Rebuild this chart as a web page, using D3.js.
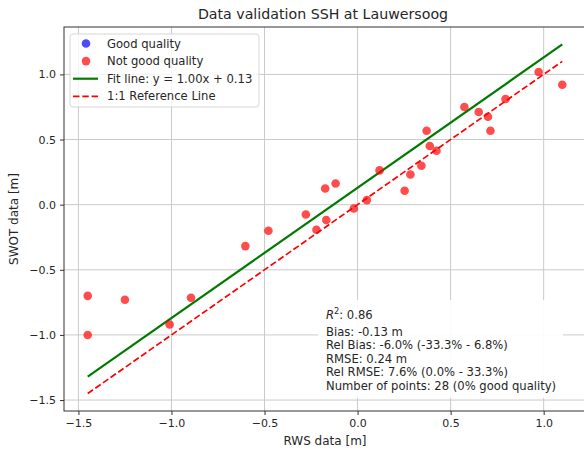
<!DOCTYPE html>
<html>
<head>
<meta charset="utf-8">
<script src="https://cdn.jsdelivr.net/npm/d3@7"></script>
<style>
  body { margin: 0; background: #fff; }
  text { font-family: "DejaVu Sans", sans-serif; fill: #262626; }
</style>
</head>
<body>
<div id="chart"></div>
<script>
// RWS (x) vs SWOT (y), all points are "not good quality"
const rwsValues = [-1.45, -1.45, -1.25, -1.01, -0.895, -0.603, -0.479, -0.278, -0.221, -0.168,
                   -0.174, -0.118, -0.020, 0.050, 0.118, 0.253, 0.284, 0.343, 0.371, 0.388,
                   0.424, 0.574, 0.651, 0.701, 0.714, 0.795, 0.973, 1.10];
const swotValues = [-0.70, -1.00, -0.73, -0.92, -0.715, -0.318, -0.200, -0.075, -0.193, -0.118,
                    0.124, 0.163, -0.029, 0.035, 0.263, 0.107, 0.232, 0.299, 0.568, 0.450,
                    0.414, 0.750, 0.711, 0.675, 0.568, 0.811, 1.018, 0.921];
const goodQuality = [];   // no good-quality points

const fitSlope = 1.00;
const fitIntercept = 0.13;

const xTicks = [-1.5, -1.0, -0.5, 0.0, 0.5, 1.0];
const yTicks = [-1.5, -1.0, -0.5, 0.0, 0.5, 1.0];

const legendLabels = ["Good quality", "Not good quality", "Fit line: y = 1.00x + 0.13", "1:1 Reference Line"];
const statLines = ["Bias: -0.13 m", "Rel Bias: -6.0% (-33.3% - 6.8%)", "RMSE: 0.24 m",
                   "Rel RMSE: 7.6% (0.0% - 33.3%)", "Number of points: 28 (0% good quality)"];
const r2Value = "0.86";

const W = 584, H = 452;
const margin = {top: 27, right: -2, bottom: 41, left: 64};

const svg = d3.select("#chart").append("svg")
    .attr("width", W).attr("height", H);

const x = d3.scaleLinear().domain([-1.5775, 1.2275]).range([margin.left, W - margin.right]);
const y = d3.scaleLinear().domain([-1.584, 1.364]).range([H - margin.bottom, margin.top]);

const minus = s => s.replace("-", "\u2212");

// grid
svg.append("g").selectAll("line").data(xTicks).join("line")
    .attr("x1", d => x(d)).attr("x2", d => x(d))
    .attr("y1", margin.top).attr("y2", H - margin.bottom)
    .attr("stroke", "#cacaca").attr("stroke-width", 1);
svg.append("g").selectAll("line").data(yTicks).join("line")
    .attr("y1", d => y(d)).attr("y2", d => y(d))
    .attr("x1", margin.left).attr("x2", W - margin.right)
    .attr("stroke", "#cacaca").attr("stroke-width", 1);

// axes
const xAxis = d3.axisBottom(x).tickValues(xTicks).tickSize(4).tickPadding(4)
    .tickFormat(d => minus(d3.format(".1f")(d)));
const yAxis = d3.axisLeft(y).tickValues(yTicks).tickSize(4).tickPadding(4)
    .tickFormat(d => minus(d3.format(".1f")(d)));

const gx = svg.append("g").attr("transform", `translate(0,${H - margin.bottom})`).call(xAxis);
const gy = svg.append("g").attr("transform", `translate(${margin.left},0)`).call(yAxis);
[gx, gy].forEach(g => {
    g.select(".domain").remove();
    g.selectAll(".tick line").attr("stroke", "#333");
    g.selectAll(".tick text").attr("font-size", 11).attr("fill", "#262626")
        .style("font-family", "DejaVu Sans");
});

// frame
svg.append("rect")
    .attr("x", margin.left).attr("y", margin.top)
    .attr("width", x.range()[1] - margin.left).attr("height", H - margin.bottom - margin.top)
    .attr("fill", "none").attr("stroke", "#333").attr("stroke-width", 1);

// lines
const xExt = d3.extent(rwsValues);
const line = d3.line().x(d => x(d[0])).y(d => y(d[1]));
svg.append("path")
    .attr("d", line(xExt.map(v => [v, fitSlope * v + fitIntercept])))
    .attr("stroke", "#007a00").attr("stroke-width", 2.2).attr("fill", "none");
svg.append("path")
    .attr("d", line(xExt.map(v => [v, v])))
    .attr("stroke", "red").attr("stroke-width", 1.7).attr("fill", "none")
    .attr("stroke-dasharray", "6.5,2.8");

// points
const pts = rwsValues.map((v, i) => [v, swotValues[i]]);
svg.append("g").selectAll("circle").data(pts).join("circle")
    .attr("cx", d => x(d[0])).attr("cy", d => y(d[1])).attr("r", 4.3)
    .attr("fill", "red").attr("fill-opacity", 0.7);
svg.append("g").selectAll("circle").data(goodQuality).join("circle")
    .attr("cx", d => x(d[0])).attr("cy", d => y(d[1])).attr("r", 4.3)
    .attr("fill", "blue").attr("fill-opacity", 0.7);

// stats box
const sb = svg.append("g");
sb.append("rect").attr("x", 318).attr("y", 300).attr("width", 245).attr("height", 98)
    .attr("fill", "white").attr("fill-opacity", 0.9);
const st = sb.append("text").attr("x", 326).attr("font-size", 11.6);
const r2 = st.append("tspan").attr("x", 326).attr("y", 319);
r2.append("tspan").attr("font-style", "italic").text("R");
r2.append("tspan").attr("font-size", 8.2).attr("dy", -5).text("2");
r2.append("tspan").attr("dy", 5).text(": " + r2Value);
statLines.forEach((s, i) => {
    st.append("tspan").attr("x", 326).attr("y", 335.5 + i * 13.6).text(s);
});

// legend
const lg = svg.append("g");
lg.append("rect").attr("x", 70).attr("y", 34).attr("width", 189).attr("height", 73)
    .attr("rx", 3).attr("fill", "white").attr("fill-opacity", 0.8)
    .attr("stroke", "#d6d6d6");
const rowY = i => 43.5 + i * 17.6;
lg.append("circle").attr("cx", 86).attr("cy", rowY(0)).attr("r", 4.3)
    .attr("fill", "blue").attr("fill-opacity", 0.7);
lg.append("circle").attr("cx", 86).attr("cy", rowY(1)).attr("r", 4.3)
    .attr("fill", "red").attr("fill-opacity", 0.7);
lg.append("line").attr("x1", 73).attr("x2", 98).attr("y1", rowY(2)).attr("y2", rowY(2))
    .attr("stroke", "#007a00").attr("stroke-width", 2.2);
lg.append("line").attr("x1", 73).attr("x2", 98).attr("y1", rowY(3)).attr("y2", rowY(3))
    .attr("stroke", "red").attr("stroke-width", 1.7).attr("stroke-dasharray", "6.5,2.8");
lg.selectAll("text.lab").data(legendLabels).join("text").attr("class", "lab")
    .attr("x", 107).attr("y", (d, i) => rowY(i)).attr("dy", "0.35em")
    .attr("font-size", 11.6).text(d => d);

// titles
svg.append("text").attr("x", 323).attr("y", 19)
    .attr("text-anchor", "middle").attr("font-size", 14.2).attr("fill", "#000")
    .text("Data validation SSH at Lauwersoog");
svg.append("text").attr("x", 325).attr("y", 445)
    .attr("text-anchor", "middle").attr("font-size", 12)
    .text("RWS data [m]");
svg.append("text").attr("transform", `translate(18,${(margin.top + H - margin.bottom) / 2}) rotate(-90)`)
    .attr("text-anchor", "middle").attr("font-size", 12)
    .text("SWOT data [m]");
</script>
</body>
</html>
